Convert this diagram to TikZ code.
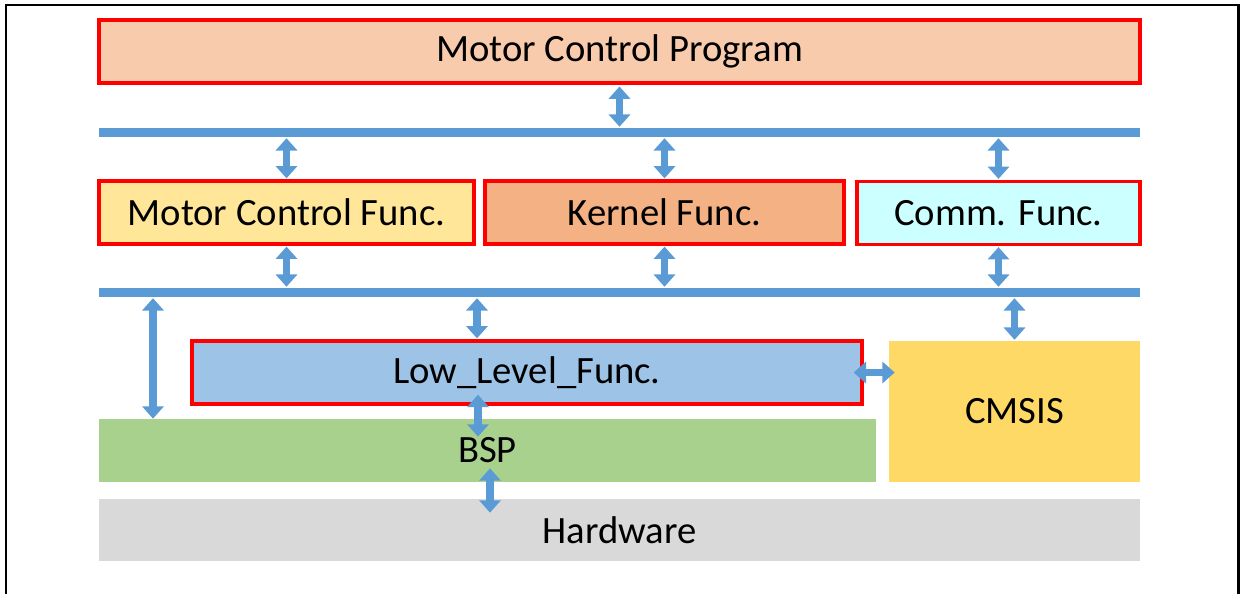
\documentclass[tikz,border=0pt]{standalone}
\usepackage{fontspec}
\setmainfont{Carlito}
\usetikzlibrary{arrows.meta}
\definecolor{busblue}{HTML}{5B9BD5}
\definecolor{progfill}{HTML}{F8CBAD}
\definecolor{mcffill}{HTML}{FFE699}
\definecolor{kernfill}{HTML}{F4B183}
\definecolor{commfill}{HTML}{CCFFFF}
\definecolor{llffill}{HTML}{9DC3E6}
\definecolor{cmsisfill}{HTML}{FFD966}
\definecolor{bspfill}{HTML}{A9D18E}
\definecolor{hwfill}{HTML}{D9D9D9}
\tikzset{
	layer/.style={rectangle, inner sep=0pt, font=\fontsize{22}{26}\selectfont},
	redbox/.style={layer, draw=red, line width=2pt},
	bus/.style={rectangle, fill=busblue, inner sep=0pt, minimum width=20.82cm, minimum height=0.18cm},
	busarrow/.style={draw=busblue, line width=4.3pt, {Triangle[width=12pt,length=7pt]}-{Triangle[width=12pt,length=7pt]}},
}
\begin{document}
\begin{tikzpicture}[x=0.02cm, y=-0.02cm]
	\useasboundingbox (0,0) rectangle (1243,594);
	\draw[line width=1.7pt] (6,594) -- (6,5) -- (1238,5) -- (1238,594);

	\node[redbox, fill=progfill, minimum width=20.82cm, minimum height=1.26cm] (prog) at (619.5,51.5) {Motor Control Program};
	\node[bus] (bus1) at (619.5,132.5) {};
	\node[redbox, fill=mcffill, minimum width=7.5cm, minimum height=1.26cm] (mcf) at (286.5,212.5) {Motor Control Func.};
	\node[redbox, fill=kernfill, minimum width=7.18cm, minimum height=1.26cm] (kern) at (664.5,212.5) {Kernel Func.};
	\node[redbox, fill=commfill, minimum width=5.66cm, minimum height=1.26cm] (comm) at (998.5,213) {Comm. Func.};
	\node[bus] (bus2) at (619.5,292.5) {};
	\node[layer, fill=cmsisfill, minimum width=5.02cm, minimum height=2.82cm] (cmsis) at (1014.5,411.5) {CMSIS};
	\node[layer, fill=bspfill, minimum width=15.54cm, minimum height=1.26cm] (bsp) at (487.5,450.5) {BSP};
	\node[redbox, fill=llffill, minimum width=13.4cm, minimum height=1.26cm] (llf) at (527,372.5) {Low\_Level\_Func.};
	\node[layer, fill=hwfill, minimum width=20.82cm, minimum height=1.24cm] (hw) at (619.5,530) {Hardware};

	\coordinate (xleft) at (153,0);
	\coordinate (xlow) at (477,0);
	\coordinate (xbsp) at (478,0);
	\coordinate (xhw) at (490,0);

	\draw[busarrow, shorten <=1pt, shorten >=0.5pt] (prog.south) -- (bus1.north -| prog.south);
	\foreach \n in {mcf,kern,comm}{
		\draw[busarrow, shorten <=0.5pt, shorten >=0.5pt] (bus1.south -| \n.north) -- (\n.north);
		\draw[busarrow, shorten <=0.5pt, shorten >=0.5pt] (\n.south) -- (bus2.north -| \n.south);
	}
	\draw[busarrow, shorten <=0.5pt] (xleft |- bus2.south) -- (xleft |- bsp.north);
	\draw[busarrow, shorten <=0.5pt, shorten >=0.5pt] (xlow |- bus2.south) -- (xlow |- llf.north);
	\draw[busarrow, shorten <=0.5pt, shorten >=0.5pt] (bus2.south -| cmsis.north) -- (cmsis.north);
	\draw[busarrow] ([yshift=0.22cm]xbsp |- llf.south) -- ([yshift=-0.36cm]xbsp |- bsp.north);
	\draw[busarrow] ([yshift=0.28cm]xhw |- bsp.south) -- ([yshift=-0.28cm]xhw |- hw.north);
	\draw[busarrow] ([xshift=-0.2cm]llf.east) -- ([xshift=0.12cm]cmsis.west |- llf.east);
\end{tikzpicture}
\end{document}
